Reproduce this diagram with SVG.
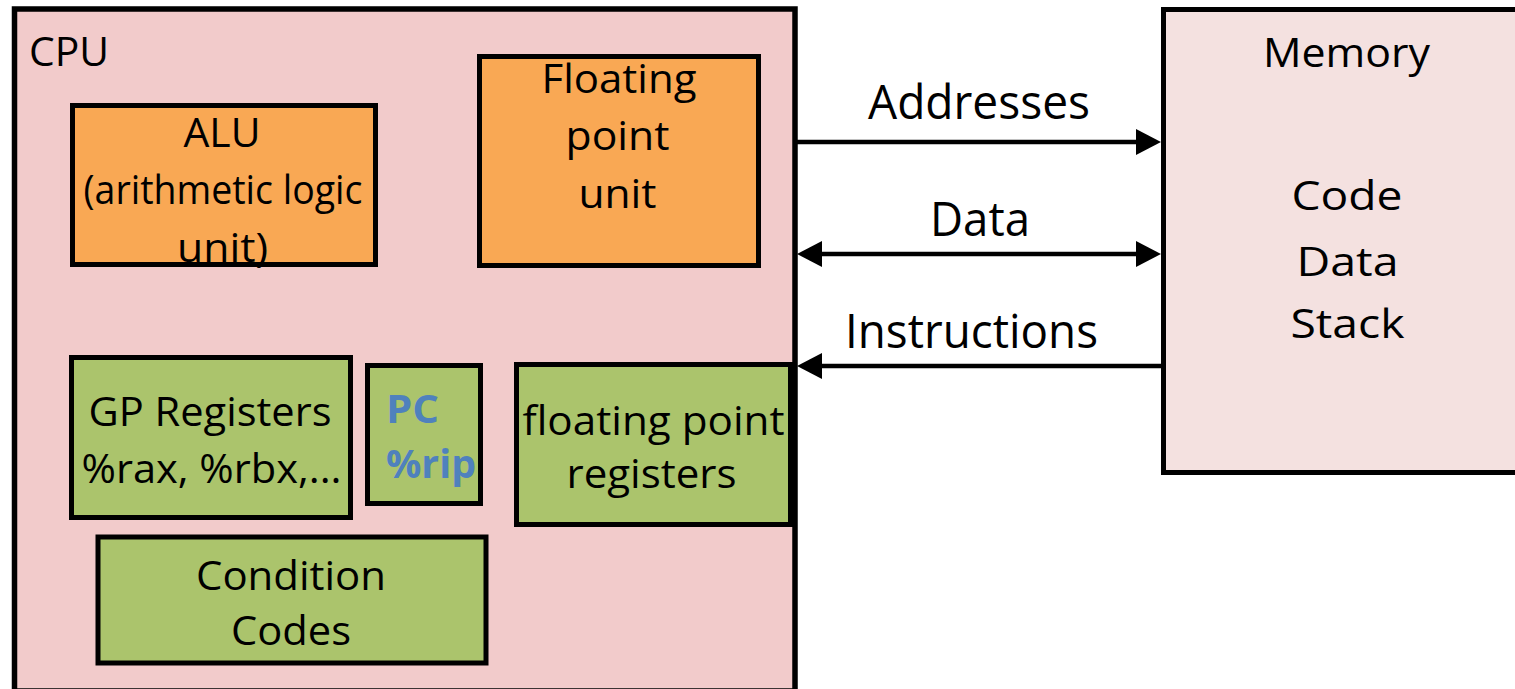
<svg xmlns="http://www.w3.org/2000/svg" width="1515" height="689" viewBox="0 0 1515 689">
  <style>
    .box { stroke: #000; stroke-width: 5; }
    .cpu { fill: #F2CBCB; stroke: #000; stroke-width: 5.5; }
    .mem { fill: #F4E1E0; stroke: #000; stroke-width: 5; }
    .orange { fill: #F9A854; }
    .green { fill: #ABC46C; }
    text { font-family: "Open Sans", "Noto Sans", sans-serif; font-size: 40px; fill: #000; }
    .c { text-anchor: middle; }
    .lbl { font-size: 47px; }
    .pc { font-weight: bold; fill: #4F81BD; }
    .wire { stroke: #000; stroke-width: 4.5; fill: none; }
  </style>
  <defs>
    <marker id="head" markerUnits="userSpaceOnUse" markerWidth="26" markerHeight="27" refX="5" refY="13" orient="auto-start-reverse">
      <path d="M0,0 L25,13 L0,26 Z" fill="#000"/>
    </marker>
  </defs>

  <!-- CPU enclosure -->
  <g id="cpu">
    <rect class="cpu" x="14.5" y="9" width="780.5" height="682"/>
    <text x="29" y="66" textLength="80" lengthAdjust="spacingAndGlyphs">CPU</text>
  </g>

  <g id="alu">
    <rect class="box orange" x="72.5" y="105.5" width="303" height="159"/>
    <text class="c" x="222" y="147" textLength="77" lengthAdjust="spacingAndGlyphs">ALU</text>
    <text class="c" x="223" y="204" textLength="279" lengthAdjust="spacingAndGlyphs">(arithmetic logic</text>
    <text class="c" x="222.5" y="262" textLength="91" lengthAdjust="spacingAndGlyphs">unit)</text>
  </g>

  <g id="fpu">
    <rect class="box orange" x="479.5" y="56.5" width="279" height="209"/>
    <text class="c" x="619" y="93" textLength="155" lengthAdjust="spacingAndGlyphs">Floating</text>
    <text class="c" x="617.5" y="150" textLength="104" lengthAdjust="spacingAndGlyphs">point</text>
    <text class="c" x="617.5" y="208" textLength="78" lengthAdjust="spacingAndGlyphs">unit</text>
  </g>

  <g id="gp-registers">
    <rect class="box green" x="71.5" y="357.5" width="279" height="160"/>
    <text class="c" x="210" y="426" textLength="243" lengthAdjust="spacingAndGlyphs">GP Registers</text>
    <text class="c" x="211.5" y="483" textLength="260" lengthAdjust="spacingAndGlyphs">%rax, %rbx,...</text>
  </g>

  <g id="pc">
    <rect class="box green" x="367.5" y="365.5" width="113" height="138"/>
    <text class="pc" x="386" y="423" textLength="53" lengthAdjust="spacingAndGlyphs">PC</text>
    <text class="pc" x="386" y="478" textLength="90" lengthAdjust="spacingAndGlyphs">%rip</text>
  </g>

  <g id="fp-registers">
    <rect class="box green" x="516.5" y="364.5" width="274" height="160"/>
    <text class="c" x="653.5" y="435" textLength="262" lengthAdjust="spacingAndGlyphs">floating point</text>
    <text class="c" x="651.5" y="488" textLength="170" lengthAdjust="spacingAndGlyphs">registers</text>
  </g>

  <g id="condition-codes">
    <rect class="box green" x="98" y="537" width="388" height="126"/>
    <text class="c" x="291" y="590" textLength="190" lengthAdjust="spacingAndGlyphs">Condition</text>
    <text class="c" x="291" y="645" textLength="120" lengthAdjust="spacingAndGlyphs">Codes</text>
  </g>

  <!-- Memory -->
  <g id="memory">
    <rect class="mem" x="1163.5" y="9.5" width="360" height="463"/>
    <text class="c" x="1346.5" y="67" textLength="167" lengthAdjust="spacingAndGlyphs">Memory</text>
    <text class="c" x="1347" y="210" textLength="111" lengthAdjust="spacingAndGlyphs">Code</text>
    <text class="c" x="1347.5" y="276" textLength="102" lengthAdjust="spacingAndGlyphs">Data</text>
    <text class="c" x="1347.5" y="338" textLength="114" lengthAdjust="spacingAndGlyphs">Stack</text>
  </g>

  <!-- Buses between CPU and memory -->
  <g id="connectors">
    <line class="wire" x1="797" y1="142" x2="1141" y2="142" marker-end="url(#head)"/>
    <line class="wire" x1="817" y1="254" x2="1141" y2="254" marker-start="url(#head)" marker-end="url(#head)"/>
    <line class="wire" x1="1162" y1="366" x2="817" y2="366" marker-end="url(#head)"/>
    <text class="c lbl" x="979" y="119" textLength="222" lengthAdjust="spacingAndGlyphs">Addresses</text>
    <text class="c lbl" x="980" y="236" textLength="100" lengthAdjust="spacingAndGlyphs">Data</text>
    <text class="c lbl" x="971.5" y="348" textLength="253" lengthAdjust="spacingAndGlyphs">Instructions</text>
  </g>
</svg>
